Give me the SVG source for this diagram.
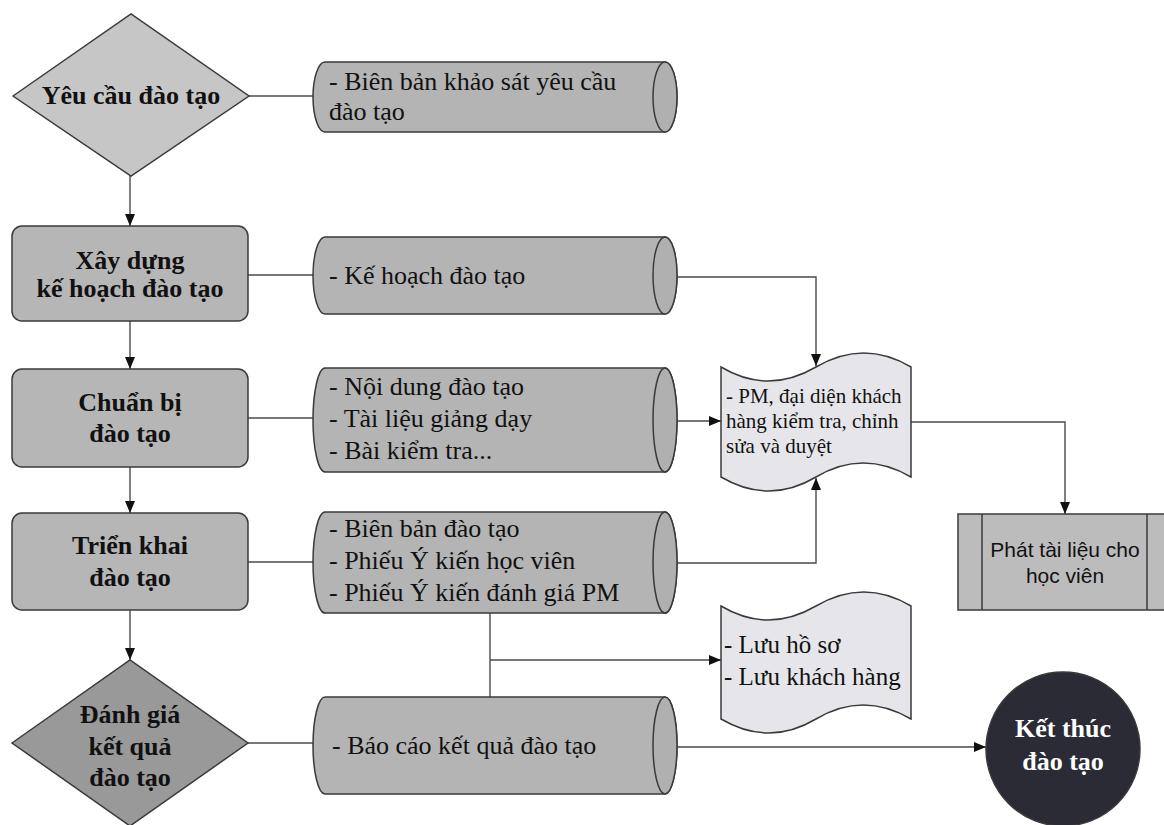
<svg xmlns="http://www.w3.org/2000/svg" width="1164" height="825" viewBox="0 0 1164 825">
<style>
.shape{stroke:#3a3a3a;stroke-width:1.5}
.lt{fill:#c6c6c6}.md{fill:#b6b6b6}.dk{fill:#999999}.doc{fill:#e6e6ea}.proc{fill:#bcbcbc}
.cyl{fill:#b4b4b4}
.cap{fill:#b0b0b0}
.b{font-family:"Liberation Serif","Times New Roman",serif;font-weight:bold;font-size:26px;fill:#111;text-anchor:middle}
.r{font-family:"Liberation Serif","Times New Roman",serif;font-size:26px;fill:#111}
.r2{font-family:"Liberation Serif","Times New Roman",serif;font-size:25px;fill:#111}
.s{font-family:"Liberation Serif","Times New Roman",serif;font-size:21px;fill:#111}
.a{font-family:"Liberation Sans",Arial,sans-serif;font-size:21px;fill:#111;text-anchor:middle}
.w{fill:#fff}
.ln{fill:none;stroke:#4a4a4a;stroke-width:1.4}
</style>
<defs>
<marker id="ah" markerWidth="12" markerHeight="10" refX="12" refY="5" orient="auto" markerUnits="userSpaceOnUse">
<path d="M0,0 L12,5 L0,10 Z" fill="#111"/>
</marker>
</defs>
<rect width="1164" height="825" fill="#fff"/>

<g id="connectors">
<line class="ln" x1="249" y1="96" x2="313" y2="96"/>
<line class="ln" x1="130" y1="176" x2="130" y2="226" marker-end="url(#ah)"/>
<line class="ln" x1="130" y1="321" x2="130" y2="369" marker-end="url(#ah)"/>
<line class="ln" x1="130" y1="467" x2="130" y2="513" marker-end="url(#ah)"/>
<line class="ln" x1="130" y1="610" x2="130" y2="660" marker-end="url(#ah)"/>
<line class="ln" x1="248" y1="275" x2="313" y2="275"/>
<line class="ln" x1="248" y1="418" x2="313" y2="418"/>
<line class="ln" x1="248" y1="562" x2="313" y2="562"/>
<line class="ln" x1="248" y1="743" x2="313" y2="743"/>
<polyline class="ln" points="677,277 816,277 816,366" marker-end="url(#ah)"/>
<line class="ln" x1="677" y1="421" x2="721" y2="421" marker-end="url(#ah)"/>
<polyline class="ln" points="677,563 816,563 816,478" marker-end="url(#ah)"/>
<polyline class="ln" points="911,422 1065,422 1065,514" marker-end="url(#ah)"/>
<line class="ln" x1="490" y1="613" x2="490" y2="697"/>
<line class="ln" x1="490" y1="660" x2="721" y2="660" marker-end="url(#ah)"/>
<line class="ln" x1="677" y1="747" x2="986" y2="747" marker-end="url(#ah)"/>
</g>

<g id="yeu-cau">
<polygon class="shape lt" points="13,96 131,14 249,96 131,176"/>
<text class="b" x="131" y="104">Yêu cầu đào tạo</text>
</g>

<g id="bien-ban-khao-sat">
<path class="shape cyl" d="M325,62 L665,62 A12,35 0 0 1 665,132 L325,132 A12,35 0 0 1 325,62 Z"/>
<path class="shape cap" d="M665,62 A12,35 0 0 1 665,132 A12,35 0 0 1 665,62 Z"/>
<text class="r" x="329" y="90">- Biên bản khảo sát yêu cầu</text>
<text class="r" x="329" y="120">đào tạo</text>
</g>

<g id="xay-dung">
<rect class="shape md" x="12" y="226" width="236" height="95" rx="10"/>
<text class="b" x="130" y="269">Xây dựng</text>
<text class="b" x="130" y="297">kế hoạch đào tạo</text>
</g>

<g id="ke-hoach">
<path class="shape cyl" d="M325,237 L665,237 A12,38.5 0 0 1 665,314 L325,314 A12,38.5 0 0 1 325,237 Z"/>
<path class="shape cap" d="M665,237 A12,38.5 0 0 1 665,314 A12,38.5 0 0 1 665,237 Z"/>
<text class="r" x="329" y="284">- Kế hoạch đào tạo</text>
</g>

<g id="chuan-bi">
<rect class="shape md" x="12" y="369" width="236" height="98" rx="10"/>
<text class="b" x="130" y="411">Chuẩn bị</text>
<text class="b" x="130" y="442">đào tạo</text>
</g>

<g id="noi-dung">
<path class="shape cyl" d="M325,368 L665,368 A12,52 0 0 1 665,472 L325,472 A12,52 0 0 1 325,368 Z"/>
<path class="shape cap" d="M665,368 A12,52 0 0 1 665,472 A12,52 0 0 1 665,368 Z"/>
<text class="r" x="329" y="395">- Nội dung đào tạo</text>
<text class="r" x="329" y="427">- Tài liệu giảng dạy</text>
<text class="r" x="329" y="459">- Bài kiểm tra...</text>
</g>

<g id="trien-khai">
<rect class="shape md" x="12" y="513" width="236" height="97" rx="10"/>
<text class="b" x="130" y="554">Triển khai</text>
<text class="b" x="130" y="586">đào tạo</text>
</g>

<g id="bien-ban-dao-tao">
<path class="shape cyl" d="M325,512 L665,512 A12,50.5 0 0 1 665,613 L325,613 A12,50.5 0 0 1 325,512 Z"/>
<path class="shape cap" d="M665,512 A12,50.5 0 0 1 665,613 A12,50.5 0 0 1 665,512 Z"/>
<text class="r" x="329" y="537">- Biên bản đào tạo</text>
<text class="r" x="329" y="569">- Phiếu Ý kiến học viên</text>
<text class="r" x="329" y="601">- Phiếu Ý kiến đánh giá PM</text>
</g>

<g id="danh-gia">
<polygon class="shape dk" points="12,743 130,660 248,743 130,826"/>
<text class="b" x="130" y="723">Đánh giá</text>
<text class="b" x="130" y="755">kết quả</text>
<text class="b" x="130" y="786">đào tạo</text>
</g>

<g id="bao-cao">
<path class="shape cyl" d="M325,697 L665,697 A12,48.5 0 0 1 665,794 L325,794 A12,48.5 0 0 1 325,697 Z"/>
<path class="shape cap" d="M665,697 A12,48.5 0 0 1 665,794 A12,48.5 0 0 1 665,697 Z"/>
<text class="r" x="332" y="754">- Báo cáo kết quả đào tạo</text>
</g>

<g id="pm-duyet">
<path class="shape doc" d="M721,367 Q768,395 816,367 T911,367 L911,477 Q863,449 816,477 T721,477 Z"/>
<text class="s" x="726" y="403">- PM, đại diện khách</text>
<text class="s" x="726" y="428">hàng kiểm tra, chỉnh</text>
<text class="s" x="726" y="453">sửa và duyệt</text>
</g>

<g id="luu-ho-so">
<path class="shape doc" d="M721,606 Q768,634 816,606 T911,606 L911,719 Q863,691 816,719 T721,719 Z"/>
<text class="r2" x="724" y="653">- Lưu hồ sơ</text>
<text class="r2" x="724" y="685">- Lưu khách hàng</text>
</g>

<g id="phat-tai-lieu">
<rect class="shape proc" x="958" y="514" width="213" height="96"/>
<line class="shape" x1="982" y1="514" x2="982" y2="610"/>
<line class="shape" x1="1147" y1="514" x2="1147" y2="610"/>
<text class="a" x="1065" y="557">Phát tài liệu cho</text>
<text class="a" x="1065" y="583">học viên</text>
</g>

<g id="ket-thuc">
<circle class="shape" cx="1063" cy="749" r="77" fill="#2b2b36"/>
<text class="b w" x="1063" y="737">Kết thúc</text>
<text class="b w" x="1063" y="770">đào tạo</text>
</g>
</svg>
